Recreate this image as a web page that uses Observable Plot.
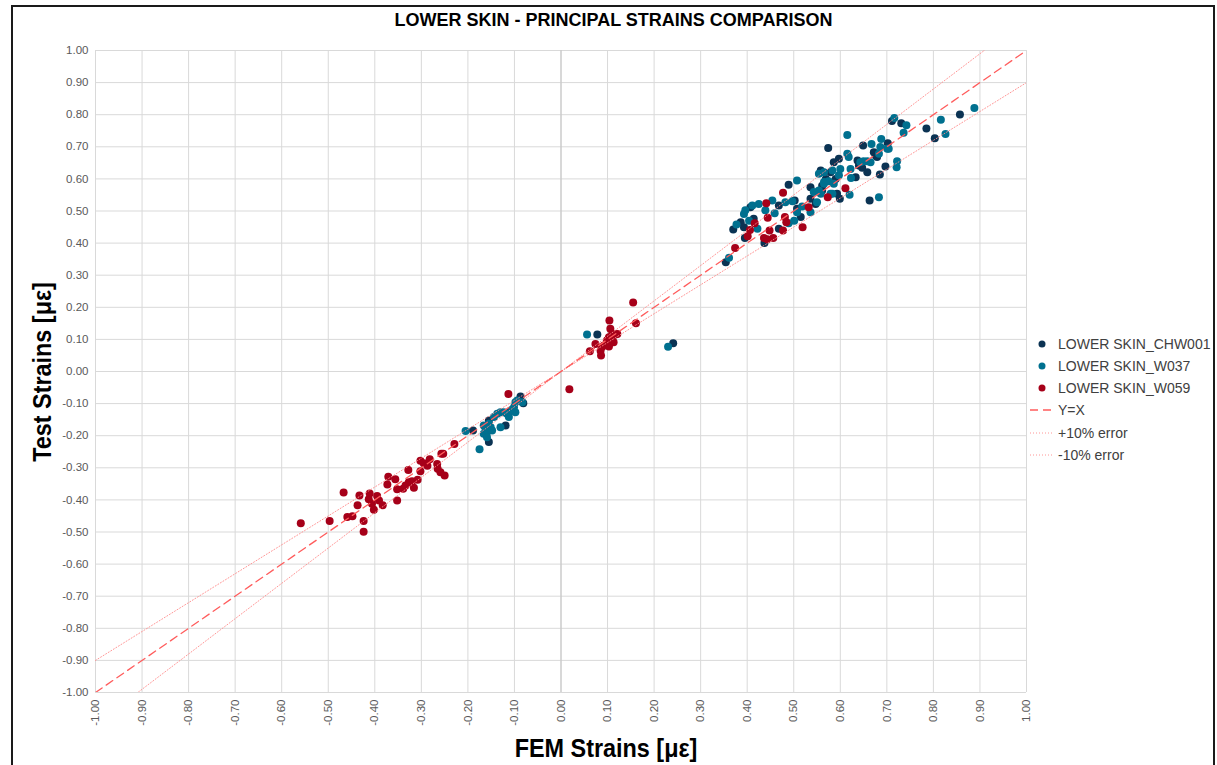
<!DOCTYPE html>
<html><head><meta charset="utf-8">
<script src="https://cdn.jsdelivr.net/npm/d3@7"></script>
<script src="https://cdn.jsdelivr.net/npm/@observablehq/plot@0.6"></script>
<style>
body{margin:0;background:#fff;font-family:"Liberation Sans",Arial,sans-serif;}
#wrap{position:relative;width:1217px;height:765px;overflow:hidden;background:#fff;}
#chart{position:absolute;left:0;top:0;}
#frame{position:absolute;left:11px;top:5px;width:1200px;height:800px;border-left:2px solid #1a1a1a;border-top:2px solid #1a1a1a;border-right:2px solid #1a1a1a;}
#title{position:absolute;left:12px;width:1203px;top:10px;text-align:center;font-weight:bold;font-size:18px;color:#000;}
#xlabel{position:absolute;left:606px;top:748px;transform:translate(-50%,-50%) scaleX(0.9);white-space:nowrap;font-weight:bold;font-size:26px;color:#000;}
#ylabel{position:absolute;left:42px;top:372px;transform:translate(-50%,-50%) rotate(-90deg) scaleX(0.9);white-space:nowrap;font-weight:bold;font-size:26px;color:#000;}
#legend{position:absolute;left:1020px;top:330px;}
</style></head><body>
<div id="wrap">
<div id="chart"></div>
<div id="frame"></div>
<div id="title">LOWER SKIN - PRINCIPAL STRAINS COMPARISON</div>
<div id="xlabel">FEM Strains [με]</div>
<div id="ylabel">Test Strains [με]</div>
<div id="legend"></div>
</div>
<script>
// Tick values
const xTicks = [-1.0,-0.9,-0.8,-0.7,-0.6,-0.5,-0.4,-0.3,-0.2,-0.1,0,0.1,0.2,0.3,0.4,0.5,0.6,0.7,0.8,0.9,1.0];
const yTicks = [-1.0,-0.9,-0.8,-0.7,-0.6,-0.5,-0.4,-0.3,-0.2,-0.1,0,0.1,0.2,0.3,0.4,0.5,0.6,0.7,0.8,0.9,1.0];

// Series names
const seriesNames = ["LOWER SKIN_CHW001","LOWER SKIN_W037","LOWER SKIN_W059"];
const lineNames = ["Y=X","+10% error","-10% error"];

// [FEM strain, Test strain]
const chw001 = [
[-0.189,-0.184],[-0.155,-0.153],[-0.119,-0.168],[-0.155,-0.220],[-0.087,-0.078],[-0.081,-0.099],
[-0.108,-0.121],[-0.112,-0.127],[0.078,0.115],[0.241,0.088],
[0.354,0.340],[0.370,0.442],[0.386,0.465],[0.407,0.512],[0.393,0.449],[0.395,0.416],[0.414,0.476],
[0.468,0.517],[0.437,0.400],[0.468,0.445],[0.489,0.582],[0.502,0.533],[0.507,0.507],[0.515,0.481],
[0.536,0.538],[0.536,0.574],[0.547,0.522],[0.558,0.626],[0.561,0.579],[0.586,0.652],[0.593,0.554],
[0.579,0.621],[0.590,0.600],[0.569,0.600],[0.574,0.696],[0.599,0.538],[0.597,0.663],[0.633,0.605],
[0.637,0.657],[0.640,0.642],[0.647,0.635],[0.649,0.704],[0.658,0.621],[0.663,0.533],[0.672,0.683],
[0.676,0.673],[0.679,0.668],[0.685,0.614],[0.697,0.639],[0.702,0.711],[0.711,0.780],[0.731,0.773],
[0.785,0.757],[0.803,0.727],[0.857,0.801],[0.561,0.564]
];
const w037 = [
[-0.166,-0.168],[-0.162,-0.179],[-0.159,-0.189],[-0.166,-0.194],[-0.155,-0.163],[-0.151,-0.174],
[-0.159,-0.205],[-0.148,-0.184],[-0.144,-0.142],[-0.137,-0.132],[-0.130,-0.127],[-0.123,-0.127],
[-0.116,-0.132],[-0.112,-0.142],[-0.130,-0.174],[-0.105,-0.121],[-0.101,-0.111],[-0.098,-0.096],
[-0.094,-0.090],[-0.083,-0.096],[-0.098,-0.127],[-0.175,-0.242],[-0.205,-0.185],[0.056,0.115],[0.230,0.077],
[0.361,0.354],[0.377,0.458],[0.393,0.491],[0.396,0.502],[0.411,0.517],[0.425,0.522],[0.404,0.470],
[0.422,0.445],[0.439,0.502],[0.459,0.493],[0.454,0.533],[0.489,0.462],[0.507,0.595],[0.482,0.527],
[0.497,0.530],[0.507,0.496],[0.518,0.514],[0.501,0.470],[0.536,0.496],[0.543,0.559],[0.550,0.527],
[0.554,0.616],[0.565,0.590],[0.554,0.564],[0.583,0.626],[0.579,0.554],[0.575,0.593],[0.565,0.585],
[0.583,0.554],[0.558,0.554],[0.565,0.621],[0.586,0.585],[0.597,0.611],[0.600,0.631],[0.615,0.737],
[0.615,0.678],[0.618,0.668],[0.620,0.551],[0.622,0.631],[0.623,0.603],[0.643,0.652],[0.650,0.655],
[0.658,0.655],[0.665,0.652],[0.667,0.709],[0.683,0.678],[0.688,0.724],[0.686,0.699],[0.683,0.543],
[0.701,0.694],[0.704,0.694],[0.721,0.636],[0.722,0.655],[0.716,0.790],[0.742,0.767],[0.736,0.744],
[0.816,0.784],[0.826,0.740],[0.888,0.821]
];
const w059 = [
[-0.559,-0.473],[-0.497,-0.466],[-0.467,-0.377],[-0.459,-0.453],[-0.448,-0.451],[-0.433,-0.386],
[-0.437,-0.417],[-0.424,-0.466],[-0.424,-0.499],[-0.411,-0.380],[-0.413,-0.398],[-0.406,-0.412],
[-0.402,-0.431],[-0.395,-0.388],[-0.391,-0.402],[-0.383,-0.417],[-0.352,-0.402],[-0.373,-0.352],
[-0.371,-0.328],[-0.356,-0.336],[-0.352,-0.367],[-0.339,-0.365],[-0.334,-0.355],[-0.328,-0.307],
[-0.327,-0.345],[-0.320,-0.342],[-0.316,-0.362],[-0.308,-0.337],[-0.302,-0.311],[-0.302,-0.278],
[-0.295,-0.286],[-0.287,-0.294],[-0.282,-0.273],[-0.266,-0.288],[-0.265,-0.303],[-0.259,-0.314],
[-0.250,-0.324],[-0.257,-0.256],[-0.253,-0.256],[-0.229,-0.226],[-0.113,-0.070],
[0.155,0.215],[0.104,0.159],[0.161,0.150],[0.106,0.133],[0.110,0.117],[0.117,0.115],[0.121,0.117],
[0.103,0.107],[0.110,0.102],[0.113,0.091],[0.099,0.097],[0.092,0.081],[0.103,0.078],[0.088,0.076],
[0.074,0.086],[0.062,0.063],[0.085,0.065],[0.086,0.050],[0.018,-0.055],
[0.374,0.385],[0.406,0.441],[0.401,0.421],[0.416,0.462],[0.441,0.524],[0.444,0.479],[0.436,0.416],
[0.448,0.439],[0.456,0.416],[0.443,0.412],[0.477,0.439],[0.481,0.481],[0.484,0.465],[0.477,0.557],
[0.519,0.449],[0.532,0.512],[0.573,0.543],[0.611,0.571]
];

// Reference lines
const refX = [-1, 0, 1];
const yEqX = [-1, 0, 1];
const plus10 = [-0.9, 0, 1.1];
const minus10 = [-1.1, 0, 0.9];

const colors = ["#0b3353", "#00708f", "#a60019"];
const lineColor = "#ff5c5c";
const dotLineColor = "#ff8a8a";

const fmt = d => d.toFixed(2);
const refTable = refX.map((x, i) => ({x, eq: yEqX[i], p: plus10[i], m: minus10[i]}));

const chart = Plot.plot({
  width: 1217, height: 765,
  marginLeft: 95, marginRight: 191, marginTop: 50, marginBottom: 73,
  style: {fontFamily: "Liberation Sans, Arial, sans-serif", fontSize: "11px", background: "transparent", overflow: "visible"},
  x: {domain: [-1, 1]},
  y: {domain: [-1, 1]},
  marks: [
    Plot.gridX(xTicks, {stroke: "#d9d9d9", strokeOpacity: 1}),
    Plot.gridY(yTicks, {stroke: "#d9d9d9", strokeOpacity: 1}),
    Plot.ruleX([0], {stroke: "#c4c4c4"}),
    Plot.axisX(xTicks, {tickRotate: -90, tickSize: 0, tickPadding: 7, tickFormat: fmt, fill: "#595959", fontSize: 11.5, label: null}),
    Plot.axisY(yTicks, {tickSize: 0, tickPadding: 7, tickFormat: fmt, fill: "#595959", fontSize: 11.5, label: null}),
    Plot.dot(chw001, {x: d => d[0], y: d => d[1], r: 4, fill: colors[0], stroke: null}),
    Plot.dot(w037, {x: d => d[0], y: d => d[1], r: 4, fill: colors[1], stroke: null}),
    Plot.dot(w059, {x: d => d[0], y: d => d[1], r: 4, fill: colors[2], stroke: null}),
    Plot.line(refTable, {x: "x", y: "p", stroke: dotLineColor, strokeWidth: 0.9, strokeDasharray: "1,2", clip: true}),
    Plot.line(refTable, {x: "x", y: "m", stroke: dotLineColor, strokeWidth: 0.9, strokeDasharray: "1,2", clip: true}),
    Plot.line(refTable, {x: "x", y: "eq", stroke: lineColor, strokeWidth: 1.3, strokeDasharray: "8,5", clip: true})
  ]
});
document.getElementById("chart").appendChild(chart);

// Legend
const lg = d3.select("#legend").append("svg").attr("width", 197).attr("height", 140)
  .style("font-family", "Liberation Sans, Arial, sans-serif").style("font-size", "14px");
const rowY = [14, 36, 58, 80, 103, 125];
seriesNames.forEach((n, i) => {
  lg.append("circle").attr("cx", 22).attr("cy", rowY[i]).attr("r", 3.5).attr("fill", colors[i]);
  lg.append("text").attr("x", 38).attr("y", rowY[i]).attr("dy", "0.35em").attr("fill", "#404040").text(n);
});
lineNames.forEach((n, j) => {
  const i = j + 3;
  lg.append("line").attr("x1", 10).attr("x2", 34).attr("y1", rowY[i]).attr("y2", rowY[i])
    .attr("stroke", j === 0 ? lineColor : dotLineColor)
    .attr("stroke-width", j === 0 ? 1.5 : 0.9)
    .attr("stroke-dasharray", j === 0 ? "8,5" : "1,2");
  lg.append("text").attr("x", 38).attr("y", rowY[i]).attr("dy", "0.35em").attr("fill", "#404040").text(n);
});
</script>
</body></html>
